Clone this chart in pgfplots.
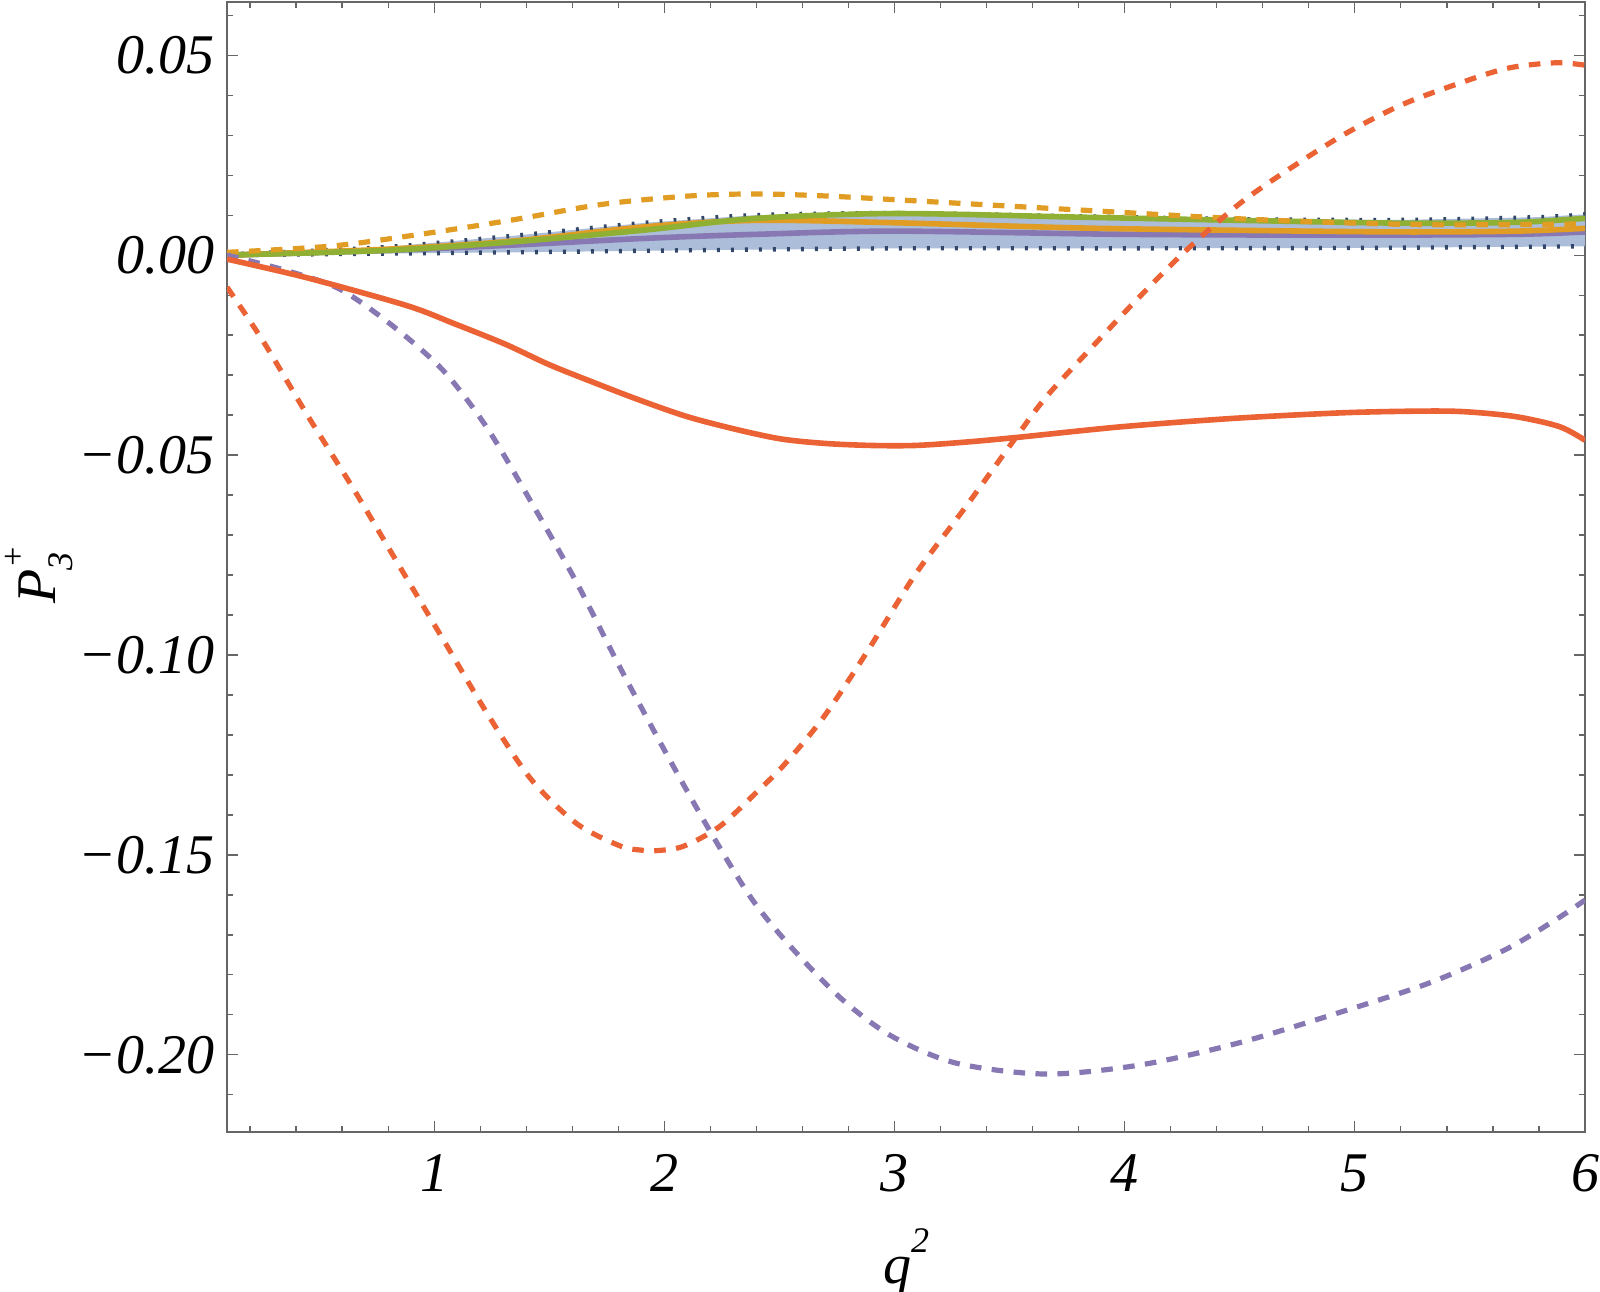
\documentclass[border=0pt]{standalone}
\usepackage{fontspec}
\setmainfont{Liberation Serif}
\usepackage{pgfplots}
\usepackage{pgfplotstable}
\pgfplotsset{compat=1.18}
\usepgfplotslibrary{fillbetween}
\definecolor{mred}{RGB}{235,98,53}
\definecolor{morange}{RGB}{225,156,36}
\definecolor{mgreen}{RGB}{143,176,50}
\definecolor{mpurple}{RGB}{135,120,179}
\definecolor{bandblue}{RGB}{171,189,217}
\definecolor{dotblue}{RGB}{50,70,105}
\definecolor{framegray}{RGB}{102,102,102}

\pgfplotstableread{
x y
0.10 -0.0010
0.45 -0.0057
0.88 -0.0126
1.09 -0.0172
1.31 -0.0223
1.50 -0.0274
1.70 -0.0320
1.89 -0.0362
2.10 -0.0404
2.32 -0.0437
2.51 -0.0460
2.70 -0.0471
2.90 -0.0476
3.09 -0.0476
3.30 -0.0468
3.53 -0.0456
3.99 -0.0429
4.48 -0.0408
4.96 -0.0394
5.31 -0.0390
5.49 -0.0392
5.70 -0.0404
5.89 -0.0429
6.00 -0.0463
}\redsolid

\pgfplotstableread{
x y
0.10 -0.0080
0.26 -0.0218
0.45 -0.0401
0.65 -0.0585
0.84 -0.0769
1.04 -0.0962
1.23 -0.1146
1.42 -0.1310
1.62 -0.1422
1.81 -0.1478
1.90 -0.1488
1.95 -0.1490
2.08 -0.1479
2.24 -0.1429
2.41 -0.1338
2.52 -0.1275
2.69 -0.1157
2.88 -0.0993
3.09 -0.0799
3.31 -0.0629
3.53 -0.0454
3.66 -0.0354
3.86 -0.0229
4.05 -0.0113
4.26 0.0008
4.50 0.0129
4.73 0.0221
4.96 0.0304
5.20 0.0375
5.43 0.0425
5.66 0.0467
5.87 0.0481
6.00 0.0475
}\reddashed

\pgfplotstableread{
x y
0.10 0.0000
0.36 -0.0039
0.59 -0.0085
0.82 -0.0177
1.04 -0.0289
1.23 -0.0432
1.42 -0.0616
1.62 -0.0820
1.81 -0.1034
2.01 -0.1248
2.20 -0.1442
2.38 -0.1610
2.55 -0.1730
2.77 -0.1860
2.99 -0.1954
3.27 -0.2021
3.66 -0.2048
4.07 -0.2025
4.49 -0.1971
4.90 -0.1900
5.32 -0.1821
5.65 -0.1738
5.87 -0.1663
6.00 -0.1613
}\purpledashed

\pgfplotstableread{
x y
0.10 0.0007
0.56 0.0023
0.95 0.0053
1.34 0.0088
1.73 0.0127
2.11 0.0148
2.40 0.0153
2.70 0.0148
3.02 0.0138
3.80 0.0113
4.57 0.0089
5.30 0.0076
6.00 0.0078
}\orangedashed

\pgfplotstableread{
x y
0.10 0.0002
0.76 0.0019
1.34 0.0048
1.92 0.0081
2.40 0.0100
3.02 0.0105
3.80 0.0097
4.50 0.0090
5.20 0.0088
5.80 0.0095
6.00 0.0102
}\upperdot

\pgfplotstableread{
x y
0.10 0.0000
1.34 0.0007
2.10 0.0012
3.00 0.0017
4.00 0.0017
5.00 0.0018
6.00 0.0022
}\lowerdot

\pgfplotstableread{
x y
0.10 0.0000
0.80 0.0012
1.34 0.0033
1.92 0.0063
2.40 0.0092
3.00 0.0104
3.80 0.0095
4.50 0.0087
5.20 0.0080
5.70 0.0082
6.00 0.0092
}\greensolid

\pgfplotstableread{
x y
0.10 0.0000
0.80 0.0015
1.34 0.0035
1.92 0.0071
2.40 0.0087
3.00 0.0081
3.80 0.0068
4.50 0.0062
5.20 0.0058
5.70 0.0060
6.00 0.0067
}\orangesolid

\pgfplotstableread{
x y
0.10 0.0000
0.80 0.0012
1.34 0.0025
1.92 0.0042
2.40 0.0052
3.00 0.0060
4.00 0.0052
5.00 0.0050
5.70 0.0052
6.00 0.0058
}\purplesolid

\begin{document}
\begin{tikzpicture}
\begin{axis}[
  scale only axis,
  width=339.5pt, height=282.5pt,
  xmin=0.1, xmax=6, ymin=-0.2193, ymax=0.0633,
  axis line style={draw=framegray, line width=0.5pt},
  xtick={1,2,3,4,5,6}, xticklabels={1,2,3,4,5,6},
  minor xtick={0.2,0.4,0.6,0.8,1.2,1.4,1.6,1.8,2.2,2.4,2.6,2.8,3.2,3.4,3.6,3.8,4.2,4.4,4.6,4.8,5.2,5.4,5.6,5.8},
  ytick={-0.2,-0.15,-0.1,-0.05,0,0.05},
  yticklabels={−0.20,−0.15,−0.10,−0.05,0.00,0.05},
  minor ytick={-0.21,-0.19,-0.18,-0.17,-0.16,-0.14,-0.13,-0.12,-0.11,-0.09,-0.08,-0.07,-0.06,-0.04,-0.03,-0.02,-0.01,0.01,0.02,0.03,0.04,0.06},
  tick align=inside,
  major tick length=2.75pt, minor tick length=1.5pt,
  every tick/.style={draw=framegray, line width=0.3pt},
  tick label style={font=\fontsize{14}{17}\selectfont\itshape},
  yticklabel style={anchor=east, inner sep=0pt, xshift=-3pt},
  xticklabel style={anchor=north, inner sep=0pt, yshift=-5.5pt},
  xlabel={\fontsize{14}{17}\selectfont\itshape q\raisebox{0.55em}{\fontsize{9}{10}\selectfont 2}},
  ylabel={\fontsize{14}{17}\selectfont\itshape P\kern0.3pt\raisebox{0.55em}{\fontsize{8.5}{10}\selectfont +}\kern-0.45em\raisebox{-0.3em}{\fontsize{9}{10}\selectfont 3}},
  x label style={at={(axis description cs:0.5,0)}, anchor=center, yshift=-32.5pt},
  y label style={at={(axis description cs:0,0.49)}, anchor=center, inner sep=0pt, rotate=0, yshift=47pt},
]
\addplot[draw=none, name path=up, forget plot] table[x=x,y=y] {\upperdot};
\addplot[draw=none, name path=lo, forget plot] table[x=x,y=y] {\lowerdot};
\addplot[fill=bandblue, draw=none, forget plot] fill between[of=up and lo];
\addplot[dotblue, line width=1.1pt, dash pattern=on 0.7pt off 2.8pt, smooth] table[x=x,y=y] {\upperdot};
\addplot[dotblue, line width=1.1pt, dash pattern=on 0.7pt off 2.8pt, smooth] table[x=x,y=y] {\lowerdot};
\addplot[mpurple, line width=1.4pt, smooth] table[x=x,y=y] {\purplesolid};
\addplot[morange, line width=1.4pt, smooth] table[x=x,y=y] {\orangesolid};
\addplot[mgreen, line width=1.4pt, smooth] table[x=x,y=y] {\greensolid};
\addplot[morange, line width=1.3pt, dash pattern=on 2.9pt off 2.6pt, smooth] table[x=x,y=y] {\orangedashed};
\addplot[mpurple, line width=1.3pt, dash pattern=on 2.9pt off 2.6pt, smooth] table[x=x,y=y] {\purpledashed};
\addplot[mred, line width=1.3pt, dash pattern=on 2.9pt off 2.6pt, smooth] table[x=x,y=y] {\reddashed};
\addplot[mred, line width=1.4pt, smooth] table[x=x,y=y] {\redsolid};
\coordinate (ll) at (rel axis cs:0,0);
\coordinate (ur) at (rel axis cs:1,1);
\end{axis}
\pgfresetboundingbox
\path ([xshift=-56.75pt,yshift=-39.75pt]ll) rectangle ([xshift=3.75pt,yshift=0.5pt]ur);
\end{tikzpicture}
\end{document}
